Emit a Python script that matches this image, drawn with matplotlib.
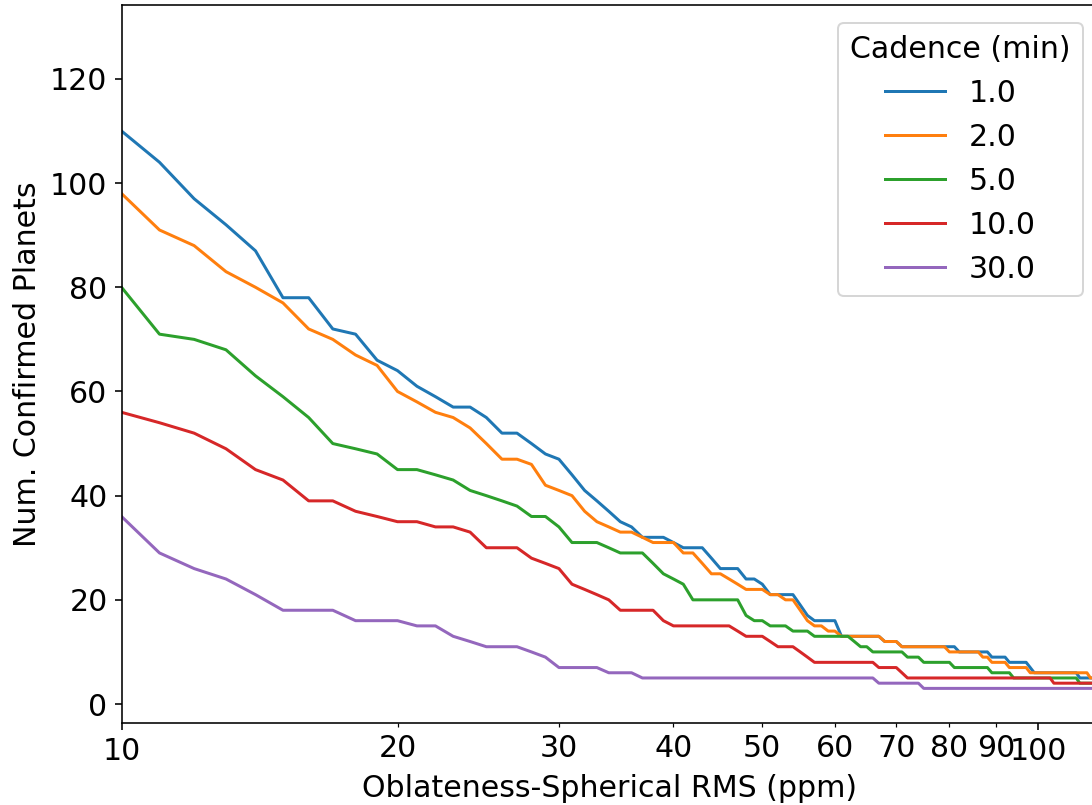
import matplotlib
matplotlib.use('agg')
import matplotlib.pyplot as plt
from matplotlib.ticker import ScalarFormatter, FixedLocator

# RMS grid (ppm), one point per integer
rms = list(range(10, 117))

cadences = ['1.0', '2.0', '5.0', '10.0', '30.0']

n_1min = [110, 104, 97, 92, 87, 78, 78, 72, 71, 66,
          64, 61, 59, 57, 57, 55, 52, 52, 50, 48,
          47, 44, 41, 39, 37, 35, 34, 32, 32, 32,
          31, 30, 30, 30, 28, 26, 26, 26, 24, 24,
          23, 21, 21, 21, 21, 19, 17, 16, 16, 16,
          16, 13, 13, 13, 13, 13, 13, 13, 12, 12,
          12, 11, 11, 11, 11, 11, 11, 11, 11, 11,
          11, 11, 10, 10, 10, 10, 10, 10, 10, 9,
          9, 9, 9, 8, 8, 8, 8, 8, 7, 6,
          6, 6, 6, 6, 6, 6, 6, 6, 6, 6,
          6, 5, 5, 5, 5, 5, 5]

n_2min = [98, 91, 88, 83, 80, 77, 72, 70, 67, 65,
          60, 58, 56, 55, 53, 50, 47, 47, 46, 42,
          41, 40, 37, 35, 34, 33, 33, 32, 31, 31,
          31, 29, 29, 27, 25, 25, 24, 23, 22, 22,
          22, 21, 21, 20, 20, 18, 16, 15, 15, 14,
          14, 13, 13, 13, 13, 13, 13, 13, 12, 12,
          12, 11, 11, 11, 11, 11, 11, 11, 11, 11,
          10, 10, 10, 10, 10, 10, 10, 9, 9, 8,
          8, 8, 8, 7, 7, 7, 7, 7, 6, 6,
          6, 6, 6, 6, 6, 6, 6, 6, 6, 6,
          6, 6, 6, 6, 5, 5, 5]

n_5min = [80, 71, 70, 68, 63, 59, 55, 50, 49, 48,
          45, 45, 44, 43, 41, 40, 39, 38, 36, 36,
          34, 31, 31, 31, 30, 29, 29, 29, 27, 25,
          24, 23, 20, 20, 20, 20, 20, 20, 17, 16,
          16, 15, 15, 15, 14, 14, 14, 13, 13, 13,
          13, 13, 13, 12, 11, 11, 10, 10, 10, 10,
          10, 10, 9, 9, 9, 8, 8, 8, 8, 8,
          8, 7, 7, 7, 7, 7, 7, 7, 7, 6,
          6, 6, 6, 6, 5, 5, 5, 5, 5, 5,
          5, 5, 5, 5, 5, 5, 5, 5, 5, 5,
          5, 4, 4, 4, 4, 4, 4]

n_10min = [56, 54, 52, 49, 45, 43, 39, 39, 37, 36,
           35, 35, 34, 34, 33, 30, 30, 30, 28, 27,
           26, 23, 22, 21, 20, 18, 18, 18, 18, 16,
           15, 15, 15, 15, 15, 15, 15, 14, 13, 13,
           13, 12, 11, 11, 11, 10, 9, 8, 8, 8,
           8, 8, 8, 8, 8, 8, 8, 7, 7, 7,
           7, 6, 5, 5, 5, 5, 5, 5, 5, 5,
           5, 5, 5, 5, 5, 5, 5, 5, 5, 5,
           5, 5, 5, 5, 5, 5, 5, 5, 5, 5,
           5, 5, 5, 5, 4, 4, 4, 4, 4, 4,
           4, 4, 4, 4, 4, 4, 4]

n_30min = [36, 29, 26, 24, 21, 18, 18, 18, 16, 16,
           16, 15, 15, 13, 12, 11, 11, 11, 10, 9,
           7, 7, 7, 7, 6, 6, 6, 5, 5, 5,
           5, 5, 5, 5, 5, 5, 5, 5, 5, 5,
           5, 5, 5, 5, 5, 5, 5, 5, 5, 5,
           5, 5, 5, 5, 5, 5, 5, 4, 4, 4,
           4, 4, 4, 4, 4, 3, 3, 3, 3, 3,
           3, 3, 3, 3, 3, 3, 3, 3, 3, 3,
           3, 3, 3, 3, 3, 3, 3, 3, 3, 3,
           3, 3, 3, 3, 3, 3, 3, 3, 3, 3,
           3, 3, 3, 3, 3, 3, 3]

plt.rcParams['font.size'] = 15

fig = plt.figure(figsize=(1092 / 144, 805 / 144), dpi=144)
ax = fig.add_axes([0.1113, 0.1015, 0.8933, 0.8917])

for label, counts in zip(cadences, [n_1min, n_2min, n_5min, n_10min, n_30min]):
    ax.plot(rms, counts, label=label)

ax.set_xscale('log')
ax.set_xlim(10, 115.9)
ax.set_ylim(-3.7, 134.1)
ax.xaxis.set_major_locator(FixedLocator([10, 100]))
ax.xaxis.set_minor_locator(FixedLocator([20, 30, 40, 50, 60, 70, 80, 90]))
ax.xaxis.set_major_formatter(ScalarFormatter())
ax.xaxis.set_minor_formatter(ScalarFormatter())

ax.set_xlabel('Oblateness-Spherical RMS (ppm)')
ax.set_ylabel('Num. Confirmed Planets')

ax.legend(title='Cadence (min)', loc='upper right', borderaxespad=0,
          bbox_to_anchor=(1082.5 / 1092, 1 - 22.7 / 805),
          bbox_transform=fig.transFigure)

fig.savefig('out.png', dpi=144)
plt.close(fig)
